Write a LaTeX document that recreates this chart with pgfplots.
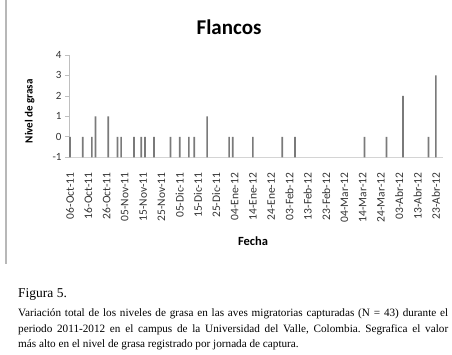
\documentclass[border=0pt]{standalone}
\usepackage{fontspec}
\newfontfamily\carlito{Carlito}
\newfontfamily\capfont{Liberation Serif}
\usepackage{pgfplots}
\pgfplotsset{compat=1.18}
\usepackage{pgfplotstable}
\definecolor{barc}{HTML}{7A7A7A}
\definecolor{axc}{HTML}{BFBFBF}
\definecolor{axx}{HTML}{D4D4D4}
\definecolor{framec}{HTML}{B8B8B8}
% d = days since 06-Oct-11, v = highest fat level of the capture day
\pgfplotstableread{
d v
0 0
7 0
12 0
14 1
21 1
26 0
28 0
35 0
39 0
41 0
46 0
55 0
60 0
65 0
68 0
75 1
87 0
89 0
100 0
116 0
123 0
161 0
173 0
182 2
196 0
200 3
}\grasa
\begin{document}
\frenchspacing
\begin{tikzpicture}
\path[use as bounding box] (0,0) rectangle (452pt,355pt);
\draw[line width=2pt, color=framec] (6pt,355pt) -- (6pt,91pt);
\node[font=\carlito\bfseries\fontsize{21}{21}\selectfont] at (229pt,328pt) {Flancos};
\begin{axis}[
  at={(69pt,197.7pt)}, anchor=south west,
  scale only axis, width=374pt, height=102.3pt,
  xmin=-0.5, xmax=203.9, ymin=0, ymax=5,
  axis x line*=bottom, axis y line*=left,
  x axis line style={-, draw=axx, line width=0.9pt},
  y axis line style={-, draw=axc, line width=0.8pt},
  xtick={0,10,...,200},
  xticklabels={06-Oct-11,16-Oct-11,26-Oct-11,05-Nov-11,15-Nov-11,25-Nov-11,05-Dic-11,15-Dic-11,25-Dic-11,04-Ene-12,14-Ene-12,24-Ene-12,03-Feb-12,13-Feb-12,23-Feb-12,04-Mar-12,14-Mar-12,24-Mar-12,03-Abr-12,13-Abr-12,23-Abr-12},
  x tick style={draw=none},
  xticklabel style={font=\carlito\fontsize{11.5}{12}\selectfont, rotate=90, anchor=east, text=black!80},
  xticklabel shift=8pt,
  ytick={0,1,2,3,4,5},
  yticklabels={-1,0,1,2,3,4},
  y tick style={draw=axc, line width=0.7pt},
  tick align=outside, major tick length=4pt,
  yticklabel style={font=\carlito\fontsize{11}{12}\selectfont, text=black!80},
  clip=false,
]
\addplot[ybar, bar width=1.7pt, fill=barc, draw=none] table[x=d, y expr=\thisrow{v}+1] {\grasa};
\node[rotate=90, font=\carlito\bfseries\fontsize{11}{12}\selectfont] at (rel axis cs:-0.105,0.45) {Nivel de grasa};
\node[font=\carlito\bfseries\fontsize{12.5}{13}\selectfont] at (rel axis cs:0.492,-0.82) {Fecha};
\end{axis}
\node[anchor=base west, inner sep=0pt, font=\capfont\fontsize{13.5}{13.5}\selectfont] at (18pt,57pt) {Figura 5.};
\node[anchor=north west, inner sep=0pt, text width=430pt, align=justify, font=\capfont\fontsize{11.2}{15.5}\selectfont] at (18pt,46pt) {Variación total de los niveles de grasa en las aves migratorias capturadas (N = 43) durante el\linebreak periodo 2011-2012 en el campus de la Universidad del Valle, Colombia. Segrafica el valor\linebreak más alto en el nivel de grasa registrado por jornada de captura.};
\end{tikzpicture}
\end{document}
